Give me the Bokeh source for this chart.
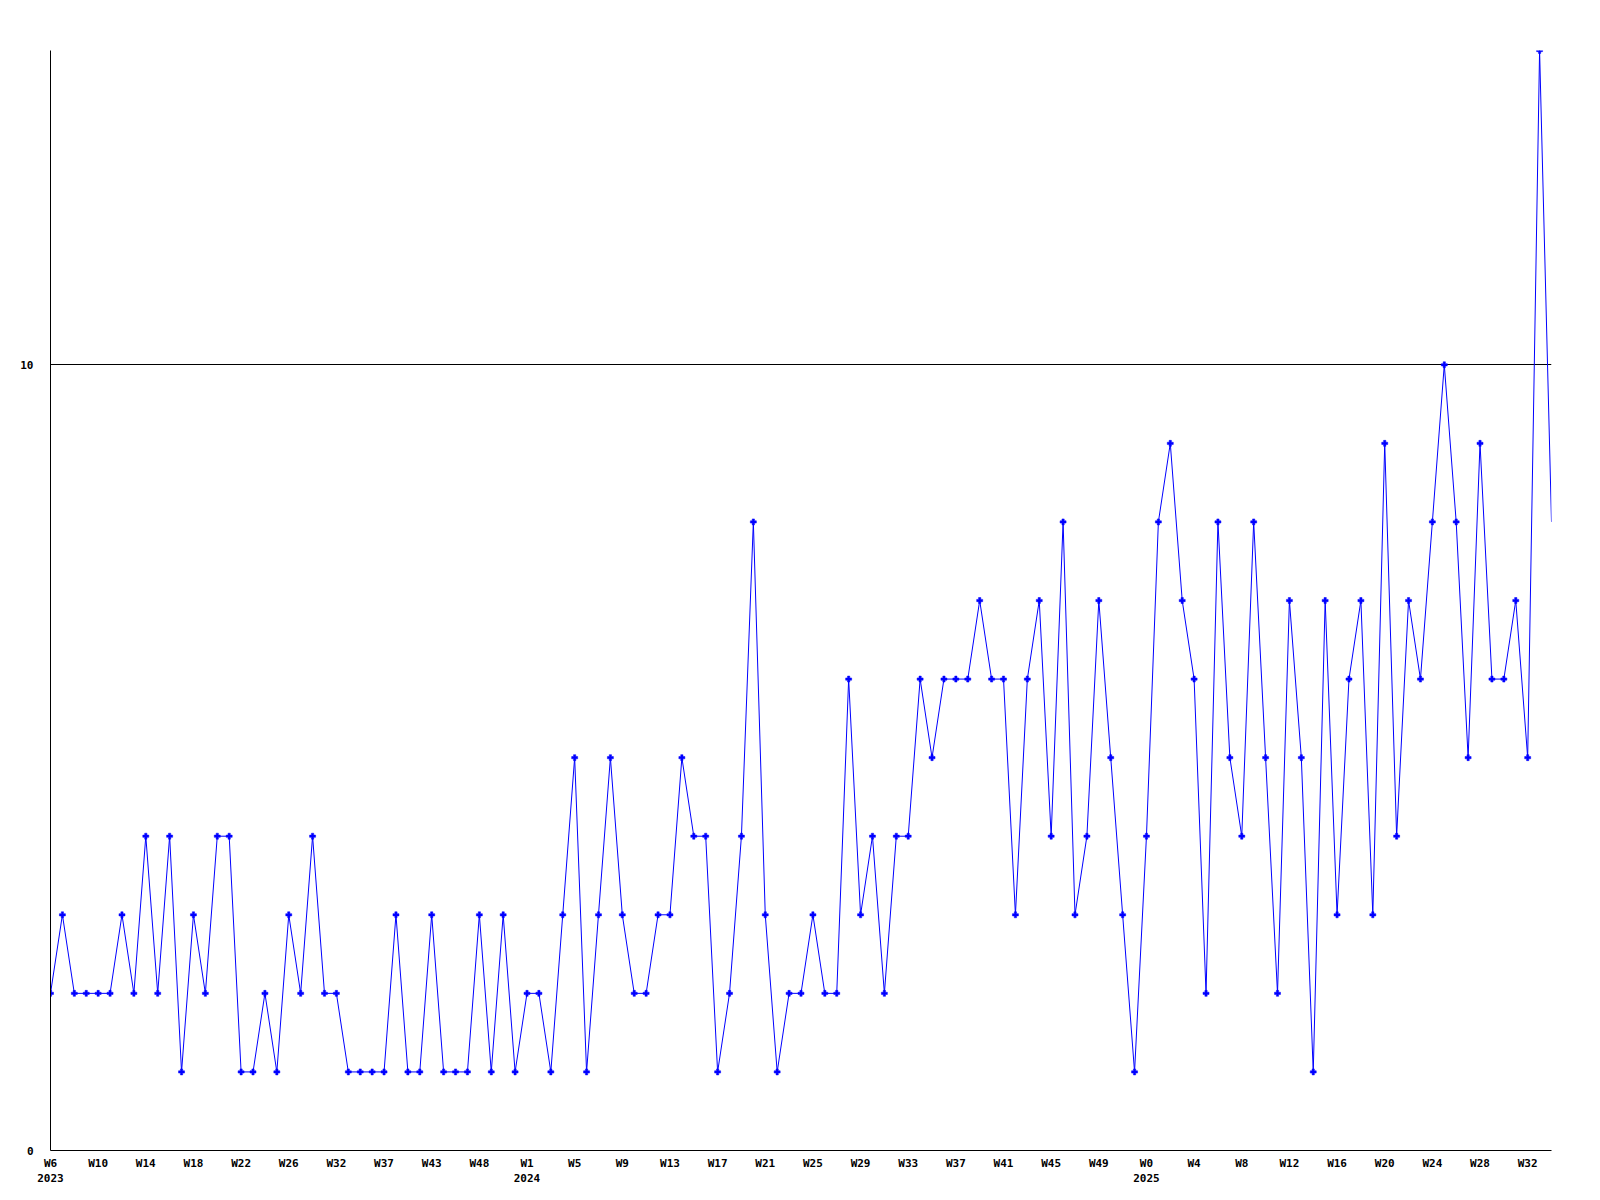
from bokeh.plotting import figure
from bokeh.models import ColumnDataSource, FixedTicker, CDSView, IndexFilter
from bokeh.embed import file_html
from bokeh.resources import INLINE

values = [2, 3, 2, 2, 2, 2, 3, 2, 4, 2, 4, 1, 3, 2, 4, 4, 1, 1, 2, 1,
          3, 2, 4, 2, 2, 1, 1, 1, 1, 3, 1, 1, 3, 1, 1, 1, 3, 1, 3, 1,
          2, 2, 1, 3, 5, 1, 3, 5, 3, 2, 2, 3, 3, 5, 4, 4, 1, 2, 4, 8,
          3, 1, 2, 2, 3, 2, 2, 6, 3, 4, 2, 4, 4, 6, 5, 6, 6, 6, 7, 6,
          6, 3, 6, 7, 4, 8, 3, 4, 7, 5, 3, 1, 4, 8, 9, 7, 6, 2, 8, 5,
          4, 8, 5, 2, 7, 5, 1, 7, 3, 6, 7, 3, 9, 4, 7, 6, 8, 10, 8, 5,
          9, 6, 6, 7, 5, 14, 8]
tick_labels = ["W6\n2023", "W10", "W14", "W18", "W22", "W26", "W32", "W37", "W43", "W48",
               "W1\n2024", "W5", "W9", "W13", "W17", "W21", "W25", "W29", "W33", "W37",
               "W41", "W45", "W49", "W0\n2025", "W4", "W8", "W12", "W16", "W20", "W24",
               "W28", "W32"]
y_ticks = [0, 10]

idx = list(range(len(values)))
tick_pos = list(range(0, len(values), 4))[:len(tick_labels)]

src = ColumnDataSource(data=dict(x=idx, y=values))

p = figure(width=1590, height=1190, output_backend="svg", toolbar_location=None,
           x_range=(0, len(values) - 1), y_range=(0, 14),
           min_border_left=50, min_border_right=39, min_border_top=50, min_border_bottom=40)
p.outline_line_color = None
p.background_fill_color = "white"
p.border_fill_color = "white"

p.line("x", "y", source=src, line_color="#0000ff", line_width=1)
view = CDSView(filter=IndexFilter(list(range(len(values) - 1))))
p.scatter("x", "y", source=src, view=view, marker="plus", size=6,
          fill_color="#0000ff", line_color="#0000ff", line_width=0.5)

font = "DejaVu Sans Mono"
p.xaxis.ticker = FixedTicker(ticks=tick_pos)
p.xaxis.major_label_overrides = {i: t for i, t in zip(tick_pos, tick_labels)}
p.yaxis.ticker = FixedTicker(ticks=y_ticks)
for ax in (p.xaxis, p.yaxis):
    ax.major_tick_line_color = None
    ax.minor_tick_line_color = None
    ax.axis_line_color = "black"
    ax.axis_line_width = 1
    ax.major_label_text_font = font
    ax.major_label_text_font_style = "bold"
    ax.major_label_text_font_size = "11px"
    ax.major_label_text_color = "black"
p.xaxis.major_label_standoff = 0
p.yaxis.major_label_standoff = 11

p.xgrid.grid_line_color = None
p.ygrid.ticker = FixedTicker(ticks=[10])
p.ygrid.grid_line_color = "black"
p.ygrid.grid_line_alpha = 1.0
p.ygrid.grid_line_width = 1

open("out.html", "w").write(file_html(p, INLINE))
